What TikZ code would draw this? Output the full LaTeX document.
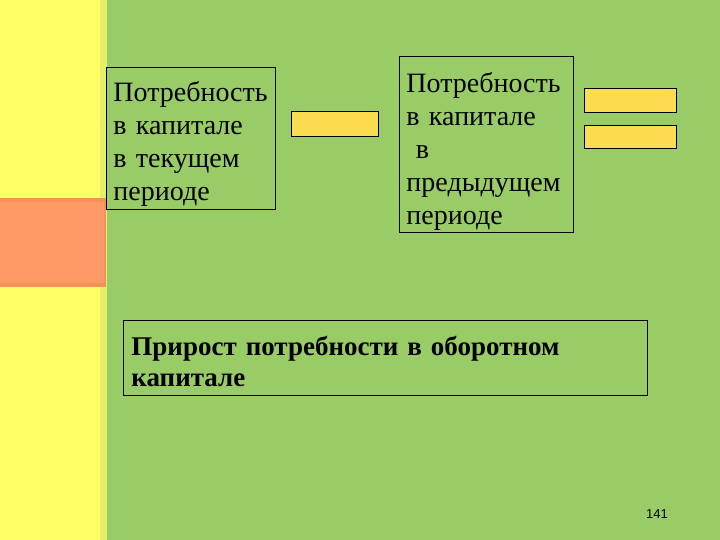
\documentclass[tikz,border=0pt]{standalone}
\usepackage{fontspec}
\setmainfont{Liberation Serif}
\newfontfamily\numfont{Liberation Sans}
\usepackage{tikz}
\usetikzlibrary{positioning}
\definecolor{SlideGreen}{HTML}{99CC66}
\definecolor{StripYellow}{HTML}{FFFF66}
\definecolor{StripEdge}{HTML}{E4F06A}
\definecolor{StripOrange}{HTML}{FF9966}
\definecolor{OrangeEdge}{HTML}{F2925A}
\definecolor{BarGold}{HTML}{FCDC50}
\newcommand{\topgap}[1]{\rule{0pt}{#1}}
\tikzset{
  txtbox/.style={draw=black, line width=0.9pt, anchor=north west, align=left,
    inner xsep=7pt, inner ysep=0pt, font=\fontsize{28}{33}\selectfont},
  goldbar/.style={draw=black, line width=0.9pt, fill=BarGold, anchor=north west}
}

\begin{document}
\begin{tikzpicture}[x=1pt,y=-1pt]
  \useasboundingbox (0,0) rectangle (720,540);
  \fill[SlideGreen] (0,0) rectangle (720,540);
  \fill[StripEdge] (0,0) rectangle (107,540);
  \fill[StripYellow] (0,0) rectangle (100,540);
  \fill[OrangeEdge] (0,198) rectangle (106,287);
  \fill[StripOrange] (0,202) rectangle (104,283);
  % boxes
  \node[txtbox, text width=155pt, minimum height=142pt] (cur) at (106,67)
    {\topgap{31pt}Потребность\\в капитале\\в текущем\\периоде};
  \node[txtbox, text width=160pt, minimum height=176pt] (prev) at (399,56)
    {\topgap{35pt}Потребность\\в капитале\\\ в\\предыдущем\\периоде};
  \node[goldbar, minimum width=87pt, minimum height=25pt] (minus) at (291,111) {};
  \node[goldbar, minimum width=92pt, minimum height=24pt] (eqtop) at (584,88) {};
  \node[goldbar, minimum width=92pt, minimum height=23pt, below=12pt of eqtop.south west, anchor=north west] (eqbot) {};
  \node[txtbox, text width=508pt, minimum height=75pt, inner xsep=8pt, font=\fontsize{27}{31}\selectfont\bfseries] (delta) at (123,320)
    {\topgap{27pt}Прирост потребности в оборотном капитале};
  \node[font=\numfont\fontsize{13}{15}\selectfont] (pg) at (657,514) {141};
\end{tikzpicture}
\end{document}
